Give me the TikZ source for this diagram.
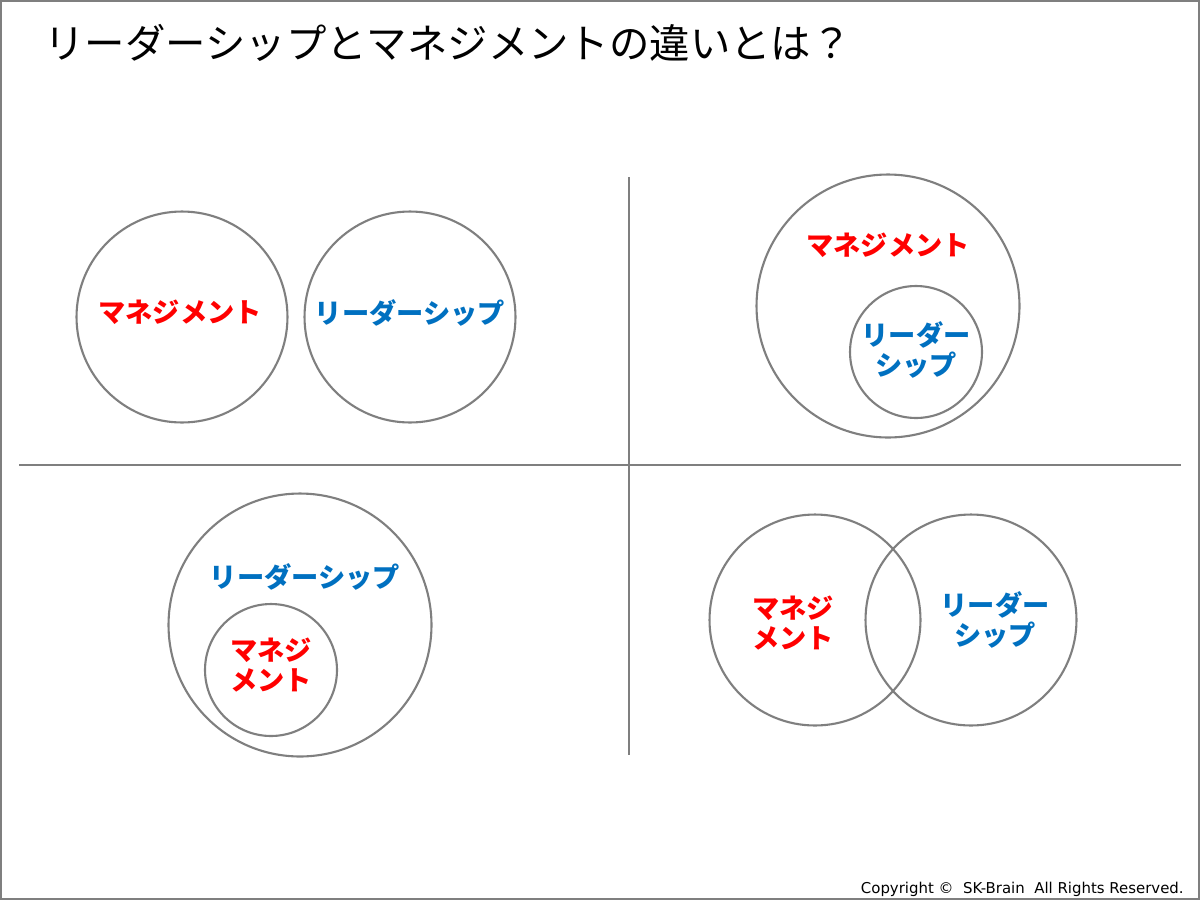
\documentclass[tikz,border=0pt]{standalone}
\usepackage{fontspec}
\setmainfont{DejaVu Sans}
\newfontfamily\jpfont{Noto Sans CJK JP}
\definecolor{ringgray}{HTML}{7F7F7F}
\definecolor{mgmtred}{HTML}{FF0000}
\definecolor{leadblue}{HTML}{0070C0}
\begin{document}
\begin{tikzpicture}[x=0.02cm,y=-0.02cm,
  ring/.style={circle,draw=ringgray,line width=1.2pt,inner sep=0pt,minimum size=#1},
  mgmt/.style={font=\jpfont\bfseries\fontsize{15.5}{17.5}\selectfont,text=mgmtred,align=center},
  lead/.style={font=\jpfont\bfseries\fontsize{15.5}{17.5}\selectfont,text=leadblue,align=center},
  divider/.style={draw=ringgray,line width=1.2pt}]

  \useasboundingbox (0,0) rectangle (1200,900);
  \draw[draw=ringgray,line width=1.1pt] (1,1) rectangle (1199,899);

  \node[anchor=base west,inner sep=0pt,font=\jpfont\fontsize{23}{27}\selectfont] (title) at (44,58)
    {リーダーシップとマネジメントの違いとは？};

  % top left: separate
  \node[ring=4.22cm] (c1) at (182,317) {};
  \node[ring=4.22cm] (c2) at (410,317) {};
  \node[mgmt] (t1) at (180,312) {マネジメント};
  \node[lead] (t2) at (410,313) {リーダーシップ};

  % top right: leadership inside management
  \node[ring=5.26cm] (c3) at (888,306) {};
  \node[ring=2.64cm] (c4) at (916,352) {};
  \node[mgmt] (t3) at (888,245) {マネジメント};
  \node[lead] (t4) at (916,350) {リーダー\\シップ};

  % bottom left: management inside leadership
  \node[ring=5.26cm] (c5) at (300,625) {};
  \node[ring=2.64cm] (c6) at (271,670) {};
  \node[lead] (t5) at (305,577) {リーダーシップ};
  \node[mgmt] (t6) at (271,665) {マネジ\\メント};

  % bottom right: overlap
  \node[ring=4.22cm] (c7) at (815,620) {};
  \node[ring=4.22cm] (c8) at (971,620) {};
  \node[mgmt] (t7) at (793,623) {マネジ\\メント};
  \node[lead] (t8) at (995,620) {リーダー\\シップ};

  \coordinate (vtop) at (629,177);
  \coordinate (vbot) at (629,755);
  \coordinate (hleft) at (19,465);
  \coordinate (hright) at (1181,465);
  \path[divider]
   (vtop) edge (vbot)
   (hleft) edge (hright);

  \node[anchor=base east,inner sep=0pt,font=\fontsize{8.5}{10}\selectfont] (copy) at (1184,893)
    {Copyright ©~ SK-Brain~ All Rights Reserved.};
\end{tikzpicture}
\end{document}
